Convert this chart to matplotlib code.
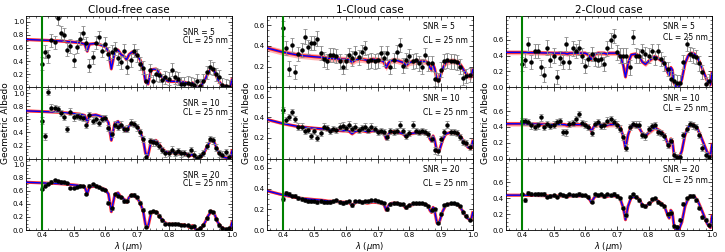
import numpy as np
import matplotlib
matplotlib.use("Agg")
import matplotlib.pyplot as plt
from matplotlib.ticker import AutoMinorLocator

# model wavelength grid (um)
model_wl = [0.35, 0.40, 0.45, 0.50, 0.52, 0.535, 0.543, 0.55, 0.57, 0.59, 0.60, 0.61, 0.619,
            0.63, 0.64, 0.65, 0.66, 0.667, 0.675, 0.685, 0.70, 0.71, 0.72, 0.727, 0.735,
            0.745, 0.76, 0.77, 0.78, 0.79, 0.80, 0.82, 0.84, 0.85, 0.86, 0.865, 0.87,
            0.875, 0.88, 0.887, 0.895, 0.905, 0.915, 0.925, 0.935, 0.945, 0.955, 0.965,
            0.975, 0.985, 0.995, 1.0]

model_cloudfree = [0.73, 0.72, 0.71, 0.69, 0.68, 0.66, 0.55, 0.66, 0.67, 0.64, 0.62, 0.55, 0.28,
                   0.54, 0.57, 0.50, 0.47, 0.42, 0.50, 0.54, 0.49, 0.42, 0.28, 0.08, 0.05,
                   0.27, 0.28, 0.22, 0.15, 0.11, 0.09, 0.09, 0.08, 0.08, 0.06, 0.04, 0.05,
                   0.07, 0.04, 0.00, 0.00, 0.04, 0.12, 0.22, 0.29, 0.24, 0.12, 0.05,
                   0.02, 0.01, 0.02, 0.12]
model_1cloud = [0.38, 0.34, 0.31, 0.295, 0.29, 0.285, 0.28, 0.28, 0.275, 0.27, 0.27, 0.265, 0.24,
                0.265, 0.27, 0.27, 0.265, 0.26, 0.265, 0.27, 0.265, 0.26, 0.245, 0.19, 0.24,
                0.26, 0.26, 0.25, 0.24, 0.21, 0.24, 0.25, 0.25, 0.25, 0.23, 0.19, 0.17,
                0.22, 0.18, 0.07, 0.08, 0.18, 0.24, 0.25, 0.255, 0.25, 0.24, 0.20,
                0.15, 0.11, 0.10, 0.17]
model_2cloud = [0.44, 0.44, 0.435, 0.43, 0.43, 0.43, 0.42, 0.43, 0.43, 0.43, 0.43, 0.41, 0.35,
                0.42, 0.43, 0.43, 0.43, 0.42, 0.43, 0.43, 0.43, 0.40, 0.28, 0.13, 0.30,
                0.41, 0.42, 0.39, 0.32, 0.29, 0.33, 0.39, 0.34, 0.30, 0.19, 0.15, 0.25,
                0.22, 0.06, 0.00, 0.00, 0.10, 0.30, 0.40, 0.43, 0.42, 0.37, 0.28,
                0.18, 0.08, 0.03, 0.18]

# observed wavelengths (um)
obs_wl = [0.40, 0.41, 0.42, 0.43, 0.44, 0.45, 0.46, 0.47, 0.48, 0.49,
          0.50, 0.51, 0.52, 0.53, 0.54, 0.55, 0.56, 0.57, 0.58, 0.59,
          0.60, 0.61, 0.62, 0.63, 0.64, 0.65, 0.66, 0.67, 0.68, 0.69,
          0.70, 0.71, 0.72, 0.73, 0.74, 0.75, 0.76, 0.77, 0.78, 0.79,
          0.80, 0.81, 0.82, 0.83, 0.84, 0.85, 0.86, 0.87, 0.88, 0.89,
          0.90, 0.91, 0.92, 0.93, 0.94, 0.95, 0.96, 0.97, 0.98, 0.99]

cf_snr5 = [0.36, 0.54, 0.47, 0.72, 0.69, 1.05, 0.83, 0.80, 0.57, 0.63,
           0.41, 0.62, 0.74, 0.83, 0.67, 0.33, 0.46, 0.68, 0.76, 0.56,
           0.66, 0.51, 0.54, 0.59, 0.44, 0.38, 0.56, 0.31, 0.41, 0.56,
           0.49, 0.36, 0.30, 0.10, 0.26, 0.09, 0.20, 0.18, 0.11, 0.15,
           0.13, 0.27, 0.15, 0.13, 0.05, 0.05, 0.07, 0.05, 0.04, 0.10,
           0.02, 0.10, 0.23, 0.31, 0.28, 0.20, 0.16, 0.04, 0.02, 0.01]
cf_snr10 = [0.58, 0.34, 1.02, 0.78, 0.77, 0.76, 0.70, 0.64, 0.45, 0.72,
            0.63, 0.65, 0.64, 0.62, 0.52, 0.66, 0.58, 0.60, 0.55, 0.61,
            0.62, 0.47, 0.38, 0.52, 0.49, 0.52, 0.45, 0.46, 0.55, 0.53,
            0.48, 0.40, 0.30, 0.02, 0.27, 0.25, 0.24, 0.20, 0.13, 0.08,
            0.09, 0.14, 0.09, 0.11, 0.08, 0.09, 0.05, 0.13, 0.06, 0.01,
            0.04, 0.09, 0.20, 0.30, 0.28, 0.17, 0.08, 0.06, 0.10, 0.02]
cf_snr20 = [0.63, 0.68, 0.71, 0.74, 0.76, 0.75, 0.74, 0.73, 0.72, 0.64,
            0.64, 0.66, 0.68, 0.67, 0.55, 0.68, 0.70, 0.68, 0.65, 0.63,
            0.61, 0.42, 0.33, 0.55, 0.52, 0.50, 0.44, 0.45, 0.53, 0.54,
            0.50, 0.42, 0.31, 0.05, 0.27, 0.29, 0.27, 0.22, 0.15, 0.10,
            0.09, 0.09, 0.10, 0.09, 0.08, 0.08, 0.07, 0.05, 0.06, 0.00,
            0.03, 0.08, 0.18, 0.29, 0.27, 0.17, 0.07, 0.03, 0.01, 0.03]

oc_snr5 = [0.57, 0.38, 0.18, 0.41, 0.15, 0.32, 0.36, 0.49, 0.39, 0.43,
           0.43, 0.47, 0.33, 0.27, 0.25, 0.31, 0.31, 0.30, 0.25, 0.20,
           0.25, 0.31, 0.28, 0.33, 0.29, 0.34, 0.38, 0.25, 0.26, 0.25,
           0.26, 0.33, 0.28, 0.33, 0.20, 0.26, 0.34, 0.41, 0.21, 0.26,
           0.30, 0.25, 0.26, 0.23, 0.20, 0.31, 0.23, 0.23, 0.08, 0.07,
           0.17, 0.25, 0.26, 0.25, 0.25, 0.24, 0.20, 0.09, 0.11, 0.12]
oc_snr10 = [0.47, 0.37, 0.40, 0.45, 0.38, 0.31, 0.31, 0.27, 0.28, 0.22,
            0.27, 0.20, 0.25, 0.31, 0.30, 0.27, 0.29, 0.28, 0.31, 0.32,
            0.30, 0.33, 0.29, 0.31, 0.28, 0.30, 0.31, 0.28, 0.31, 0.29,
            0.26, 0.27, 0.26, 0.21, 0.27, 0.26, 0.27, 0.33, 0.27, 0.22,
            0.25, 0.33, 0.27, 0.26, 0.27, 0.26, 0.24, 0.19, 0.08, 0.07,
            0.19, 0.26, 0.33, 0.26, 0.26, 0.25, 0.21, 0.16, 0.15, 0.11]
oc_snr20 = [0.30, 0.36, 0.35, 0.33, 0.33, 0.31, 0.30, 0.29, 0.28, 0.28,
            0.28, 0.27, 0.28, 0.27, 0.27, 0.27, 0.28, 0.29, 0.27, 0.26,
            0.27, 0.28, 0.24, 0.28, 0.28, 0.27, 0.28, 0.28, 0.29, 0.29,
            0.28, 0.27, 0.26, 0.20, 0.25, 0.26, 0.26, 0.25, 0.25, 0.22,
            0.24, 0.26, 0.26, 0.26, 0.26, 0.25, 0.23, 0.19, 0.20, 0.07,
            0.16, 0.24, 0.25, 0.26, 0.26, 0.25, 0.23, 0.17, 0.14, 0.10]

tc_snr5 = [0.29, 0.34, 0.55, 0.32, 0.46, 0.46, 0.25, 0.16, 0.50, 0.34,
           0.40, 0.13, 0.37, 0.32, 0.55, 0.32, 0.49, 0.46, 0.50, 0.40,
           0.27, 0.36, 0.42, 0.36, 0.34, 0.36, 0.29, 0.49, 0.59, 0.65,
           0.44, 0.40, 0.40, 0.40, 0.25, 0.63, 0.40, 0.39, 0.46, 0.42,
           0.40, 0.46, 0.37, 0.46, 0.36, 0.30, 0.23, 0.11, 0.08, 0.06,
           0.06, 0.32, 0.55, 0.42, 0.40, 0.38, 0.30, 0.19, 0.04, 0.08]
tc_snr10 = [0.47, 0.47, 0.46, 0.42, 0.40, 0.42, 0.52, 0.40, 0.44, 0.41,
            0.43, 0.46, 0.47, 0.34, 0.33, 0.44, 0.45, 0.50, 0.56, 0.45,
            0.43, 0.40, 0.32, 0.44, 0.46, 0.41, 0.42, 0.48, 0.50, 0.46,
            0.43, 0.38, 0.27, 0.14, 0.40, 0.44, 0.43, 0.43, 0.30, 0.28,
            0.37, 0.41, 0.42, 0.34, 0.32, 0.28, 0.17, 0.22, 0.05, 0.02,
            0.02, 0.30, 0.38, 0.44, 0.42, 0.40, 0.30, 0.14, 0.05, 0.02]
tc_snr20 = [0.45, 0.38, 0.47, 0.46, 0.45, 0.46, 0.45, 0.46, 0.42, 0.43,
            0.44, 0.42, 0.45, 0.44, 0.43, 0.45, 0.44, 0.44, 0.46, 0.44,
            0.44, 0.42, 0.36, 0.45, 0.44, 0.45, 0.43, 0.45, 0.44, 0.46,
            0.43, 0.40, 0.28, 0.19, 0.42, 0.45, 0.42, 0.38, 0.31, 0.30,
            0.34, 0.39, 0.40, 0.35, 0.33, 0.30, 0.20, 0.22, 0.05, 0.04,
            0.13, 0.33, 0.40, 0.43, 0.43, 0.38, 0.28, 0.16, 0.13, 0.07]

titles = ["Cloud-free case", "1-Cloud case", "2-Cloud case"]
snr_values = [5, 10, 20]
models = [model_cloudfree, model_1cloud, model_2cloud]
observations = [[cf_snr5, cf_snr10, cf_snr20],
                [oc_snr5, oc_snr10, oc_snr20],
                [tc_snr5, tc_snr10, tc_snr20]]
obs_errors = [[0.10, 0.05, 0.02],
              [0.07, 0.03, 0.015],
              [0.09, 0.04, 0.02]]
band_width = [[0.02, 0.015, 0.006],
              [0.03, 0.015, 0.01],
              [0.03, 0.03, 0.01]]
y_top = [1.09, 0.69, 0.90]
y_ticks = [[0.0, 0.2, 0.4, 0.6, 0.8, 1.0],
           [0.0, 0.2, 0.4, 0.6],
           [0.0, 0.2, 0.4, 0.6]]
text_y = [0.83, 0.91, 0.91]
text_spacing = [0.9, 1.7, 1.2]

fig = plt.figure(figsize=(7.25, 2.52), dpi=100)
lefts = [0.036, 0.368, 0.698]
width = 0.284
top = 0.937
bottom = 0.087
h = (top - bottom) / 3.0

mwl = np.array(model_wl)
for c in range(3):
    mod = np.array(models[c])
    for r in range(3):
        ax = fig.add_axes([lefts[c], top - (r + 1) * h, width, h])
        w = band_width[c][r]
        ax.fill_between(mwl, mod - w, mod + w, color="#ff8080", alpha=0.6, lw=0, zorder=1)
        ax.plot(mwl, mod, color="red", lw=2.2, alpha=0.8, zorder=2)
        ax.plot(mwl, mod, color="blue", lw=1.0, zorder=3)
        ax.errorbar(obs_wl, observations[c][r], yerr=obs_errors[c][r], fmt="o",
                    color="black", ms=2.2, ecolor="0.55", elinewidth=0.7,
                    capsize=1.2, capthick=0.6, zorder=4)
        ax.axvline(0.4, color="green", lw=1.5, zorder=5)
        ax.set_xlim(0.35, 1.0)
        ax.set_ylim(0.0, y_top[c])
        ax.set_yticks(y_ticks[c])
        ax.set_xticks([0.4, 0.5, 0.6, 0.7, 0.8, 0.9, 1.0])
        ax.xaxis.set_minor_locator(AutoMinorLocator(5))
        ax.yaxis.set_minor_locator(AutoMinorLocator(4))
        ax.tick_params(which="both", direction="in", top=True, right=True,
                       labelsize=5, pad=1.5)
        ax.tick_params(which="major", length=3, width=0.5)
        ax.tick_params(which="minor", length=1.5, width=0.4)
        for s in ax.spines.values():
            s.set_linewidth(0.6)
        ax.text(0.76, text_y[c], "SNR = %d\nCL = 25 nm" % snr_values[r],
                transform=ax.transAxes, fontsize=5.5, va="top", ha="left",
                linespacing=text_spacing[c])
        if r == 0:
            ax.set_title(titles[c], fontsize=7.5, pad=2)
        if r == 1:
            ax.set_ylabel("Geometric Albedo", fontsize=6.5, labelpad=2)
        if r < 2:
            ax.set_xticklabels([])
        else:
            ax.set_xticklabels(["0.4", "0.5", "0.6", "0.7", "0.8", "0.9", "1.0"])
            ax.set_xlabel(r"$\lambda$ ($\mu$m)", fontsize=6, labelpad=1)

fig.savefig("out.png", dpi=100)
